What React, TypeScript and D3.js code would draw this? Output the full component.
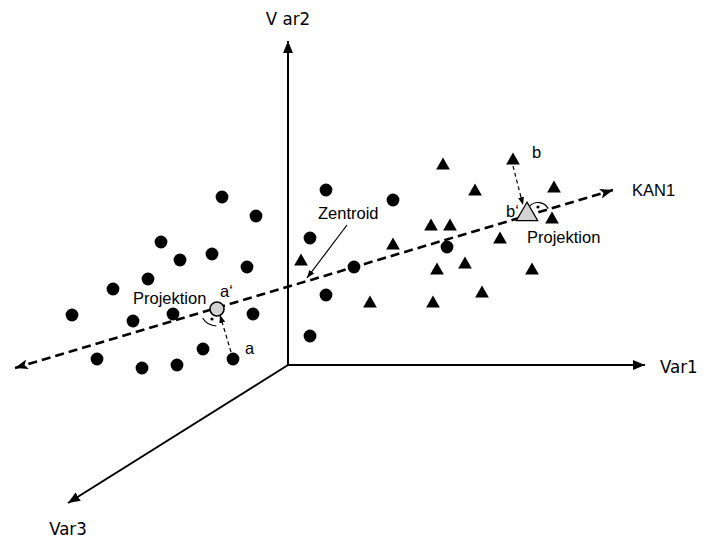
import * as d3 from "d3";

// Diagram coordinates: origin at the axis origin, v points up.
const circles: [number, number][] = [
  [-66, 168], [-32, 149], [-127, 123], [-108, 105], [-76, 111], [-41, 98],
  [-140, 86], [-175, 76], [-216, 50], [-155, 44], [-115, 51], [-35, 51],
  [-85, 16], [-55, 6], [-191, 6], [-146, -3], [-111, 0],
  [38, 175], [105, 165], [22, 127], [66, 98], [38, 70], [22, 29], [159, 118],
];

const triangles: [number, number][] = [
  [155, 201], [225, 206], [187, 175], [266, 178], [143, 140], [162, 140],
  [105, 121], [212, 127], [13, 105], [149, 96], [177, 102], [244, 96],
  [194, 73], [82, 63], [145, 63], [264, 147],
];

const axes = [
  { name: "Var1", end: [357, 0] },
  { name: "V ar2", end: [0, 324] },
  { name: "Var3", end: [-220, -138] },
];
const axisLabels = [
  { text: "Var1", at: [372, -8], anchor: "start" },
  { text: "V ar2", at: [0, 340], anchor: "middle" },
  { text: "Var3", at: [-220, -170], anchor: "middle" },
];

const kanLine: [number, number][] = [[-273, -3], [325, 175]];
const projA = { from: [-57, 13], to: [-68, 50], point: [-71, 56], mark: [-71, 56] };
const projB = { from: [225, 199], to: [235, 160], point: [239, 152], mark: [250, 151] };
const centroidArrow: [number, number][] = [[59, 140], [19, 87]];

const textLabels = [
  { text: "Projektion", at: [-155, 61] },
  { text: "a\u2018", at: [-68, 68] },
  { text: "a", at: [-43, 11] },
  { text: "b", at: [244, 207] },
  { text: "b\u2018", at: [218, 148] },
  { text: "Projektion", at: [239, 122] },
  { text: "Zentroid", at: [30, 146] },
  { text: "KAN1", at: [344, 169] },
];

const W = 711;
const H = 538;
const x = d3.scaleLinear().domain([-288, 423]).range([0, W]);
const y = d3.scaleLinear().domain([-173, 365]).range([H, 0]);

const sans = "'Liberation Sans', Arial, sans-serif";
const narrow = "'DejaVu Sans Condensed', 'DejaVu Sans', sans-serif";

function rightAngle(cx: number, cy: number, r: number, a0: number, a1: number) {
  const p = d3.path();
  const rad = Math.PI / 180;
  p.moveTo(cx + r * Math.cos(a0 * rad), cy + r * Math.sin(a0 * rad));
  p.arc(cx, cy, r, a0 * rad, a1 * rad, false);
  return p.toString();
}

export default function App() {
  const tri = d3.symbol().type(d3.symbolTriangle).size(82);
  const bigTri = d3.symbol().type(d3.symbolTriangle).size(200);
  const line = d3.line<[number, number]>().x((d) => x(d[0])).y((d) => y(d[1]));

  const ax = x(projA.point[0]);
  const ay = y(projA.point[1]);
  const amx = x(projA.mark[0]);
  const amy = y(projA.mark[1]);
  const bx = x(projB.point[0]);
  const by = y(projB.point[1]);
  const bmx = x(projB.mark[0]);
  const bmy = y(projB.mark[1]);

  return (
    <svg
      width={W}
      height={H}
      style={{ position: "absolute", left: 0, top: 0, background: "#fff" }}
    >
      <defs>
        <marker id="axHead" viewBox="0 0 12 10" refX="12" refY="5"
          markerWidth="12" markerHeight="10" markerUnits="userSpaceOnUse" orient="auto">
          <path d="M0,0L12,5L0,10z" fill="#000" />
        </marker>
        <marker id="kanHead" viewBox="0 0 13 10" refX="13" refY="5"
          markerWidth="13" markerHeight="10" markerUnits="userSpaceOnUse" orient="auto">
          <path d="M0,0L13,5L0,10L3,5z" fill="#000" />
        </marker>
        <marker id="kanTail" viewBox="0 0 13 10" refX="0" refY="5"
          markerWidth="13" markerHeight="10" markerUnits="userSpaceOnUse" orient="auto">
          <path d="M13,0L0,5L13,10L10,5z" fill="#000" />
        </marker>
        <marker id="smallHead" viewBox="0 0 8 6" refX="8" refY="3"
          markerWidth="8" markerHeight="6" markerUnits="userSpaceOnUse" orient="auto">
          <path d="M0,0L8,3L0,6z" fill="#000" />
        </marker>
      </defs>

      {axes.map((a) => (
        <line key={a.name} x1={x(0)} y1={y(0)} x2={x(a.end[0])} y2={y(a.end[1])}
          stroke="#000" strokeWidth={2} markerEnd="url(#axHead)" />
      ))}
      {axisLabels.map((l) => (
        <text key={l.text} x={x(l.at[0])} y={y(l.at[1])} textAnchor={l.anchor}
          fontFamily={narrow} fontSize={18.5} fill="#000">{l.text}</text>
      ))}

      {circles.map((c, i) => (
        <circle key={"c" + i} cx={x(c[0])} cy={y(c[1])} r={6.4} fill="#000" />
      ))}
      {triangles.map((t, i) => (
        <path key={"t" + i} d={tri() as string}
          transform={`translate(${x(t[0])},${y(t[1]) + 1.5})`} fill="#000" />
      ))}

      <path d={line(kanLine) as string} fill="none" stroke="#000" strokeWidth={2.6}
        strokeDasharray="9 5" markerEnd="url(#kanHead)" markerStart="url(#kanTail)" />

      <line x1={x(projA.from[0])} y1={y(projA.from[1])} x2={x(projA.to[0])} y2={y(projA.to[1])}
        stroke="#000" strokeWidth={1.2} strokeDasharray="4 3" markerEnd="url(#smallHead)" />
      <line x1={x(projB.from[0])} y1={y(projB.from[1])} x2={x(projB.to[0])} y2={y(projB.to[1])}
        stroke="#000" strokeWidth={1.2} strokeDasharray="4 3" markerEnd="url(#smallHead)" />
      <path d={line(centroidArrow) as string} fill="none" stroke="#000" strokeWidth={1.2}
        markerEnd="url(#smallHead)" />

      <circle cx={ax} cy={ay} r={7} fill="#d3d3d3" stroke="#000" strokeWidth={1.6} />
      <path d={bigTri() as string} transform={`translate(${bx},${by + 1.5})`}
        fill="#d3d3d3" stroke="#000" strokeWidth={1.2} />

      <path d={rightAngle(amx, amy, 17, 92, 148)} fill="none" stroke="#000" strokeWidth={1.2} />
      <circle cx={amx - 5} cy={amy + 10} r={1.6} fill="#000" />
      <path d={rightAngle(bmx, bmy, 11.5, -135, -28)} fill="none" stroke="#000" strokeWidth={1.2} />
      <circle cx={bmx} cy={bmy - 7} r={1.6} fill="#000" />

      {textLabels.map((l, i) => (
        <text key={"l" + i} x={x(l.at[0])} y={y(l.at[1])} fontFamily={sans}
          fontSize={16.5} fill="#000">{l.text}</text>
      ))}
    </svg>
  );
}
